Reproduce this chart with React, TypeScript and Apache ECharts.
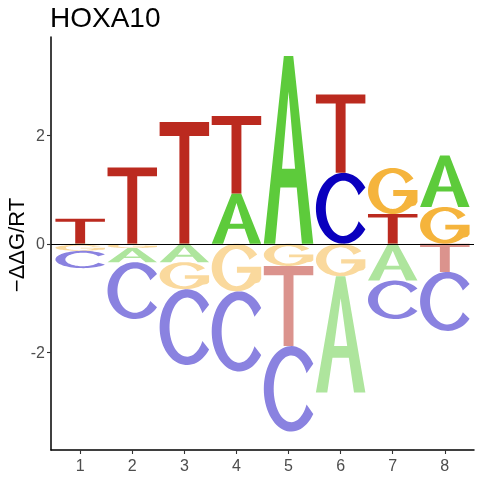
import React, { useEffect, useRef } from "react";
import * as echarts from "echarts";

// ---- data ----
const positions = [1, 2, 3, 4, 5, 6, 7, 8];
const letters = ["A", "C", "G", "T"];
const valuesA = [-0.02, -0.26, -0.34, 0.93, 3.47, -2.15, -0.68, 0.95];
const valuesC = [-0.32, -1.05, -1.4, -1.48, -1.58, 1.31, -0.71, -1.09];
const valuesG = [-0.11, -0.08, -0.5, -0.88, -0.41, -0.6, 0.85, 0.68];
const valuesT = [0.46, 1.41, 2.25, 1.43, -1.48, 1.45, 0.55, -0.52];
const yTickValues = [-2, 0, 2];
const xTickValues = [1, 2, 3, 4, 5, 6, 7, 8];
const chartTitle = "HOXA10";
const yAxisTitle = "\u2212\u0394\u0394G/RT";

const posColors: Record<string, string> = {
  A: "#5DCB3B",
  C: "#0A00BE",
  G: "#F5B43C",
  T: "#BB2A1F",
};
const negColors: Record<string, string> = {
  A: "#AEE59D",
  C: "#8A82E0",
  G: "#FAD99D",
  T: "#DB938D",
};

// ---- glyph outlines (unit box 0..100) ----
function arcPts(cx: number, cy: number, rx: number, ry: number, a0: number, a1: number, n: number) {
  const pts: number[][] = [];
  for (let i = 0; i <= n; i++) {
    const a = ((a0 + ((a1 - a0) * i) / n) * Math.PI) / 180;
    pts.push([cx + rx * Math.cos(a), cy - ry * Math.sin(a)]);
  }
  return pts;
}
function contour(pts: number[][]) {
  return (
    "M" +
    pts.map((p) => p[0].toFixed(2) + " " + p[1].toFixed(2)).join(" L") +
    " Z"
  );
}

const glyphT = contour([
  [0, 0], [100, 0], [100, 11.5], [60, 11.5], [60, 100], [40, 100], [40, 11.5], [0, 11.5],
]);

const glyphA =
  contour([
    [0, 100], [40.5, 0], [59.5, 0], [100, 100], [77, 100], [66.5, 70], [33.5, 70], [23, 100],
  ]) +
  " " +
  contour([[36.8, 60], [63.2, 60], [50, 19]]);

const glyphC = (() => {
  const a = 36;
  const R = 100 / (1 + Math.cos((a * Math.PI) / 180));
  const outer = arcPts(R, 50, R, 50, a, 360 - a, 60);
  const inner = arcPts(R, 50, R - 20, 39, 360 - 28, 28, 60);
  return contour([...outer, ...inner]);
})();

const glyphG = (() => {
  const outer = arcPts(50, 50, 50, 50, 33, 318, 60);
  const inner = arcPts(50, 50, 29, 39, -22, -335, 60);
  return contour([
    ...outer,
    [96, 81],
    [100, 74],
    [100, 48],
    [51, 48],
    [51, 61],
    [79, 61],
    ...inner,
  ]);
})();

const glyphs: Record<string, string> = { A: glyphA, C: glyphC, G: glyphG, T: glyphT };

const LETTER_WIDTH = 0.95;

function buildStacks() {
  const table: Record<string, number[]> = { A: valuesA, C: valuesC, G: valuesG, T: valuesT };
  const out: number[][] = [];
  positions.forEach((pos, i) => {
    const items = letters.map((l, li) => ({ li, v: table[l][i] }));
    const pos_ = items.filter((d) => d.v > 0).sort((a, b) => a.v - b.v);
    const neg_ = items.filter((d) => d.v < 0).sort((a, b) => b.v - a.v);
    let base = 0;
    pos_.forEach((d) => {
      out.push([pos, base, base + d.v, d.li, 1]);
      base += d.v;
    });
    base = 0;
    neg_.forEach((d) => {
      out.push([pos, base + d.v, base, d.li, -1]);
      base += d.v;
    });
  });
  return out;
}

const FONT = '"Liberation Sans", Arial, Helvetica, sans-serif';

export default function App() {
  const ref = useRef<HTMLDivElement>(null);
  useEffect(() => {
    if (!ref.current) return;
    const chart = echarts.init(ref.current, undefined, { renderer: "svg" });
    const data = buildStacks();
    chart.setOption({
      animation: false,
      grid: { left: 51, right: 6, top: 37, bottom: 30, containLabel: false },
      xAxis: {
        type: "value",
        min: 0.44,
        max: 8.56,
        splitLine: { show: false },
        axisLine: { show: true, onZero: false, lineStyle: { color: "#000", width: 1.5 } },
        axisTick: {
          show: true,
          length: 4,
          customValues: xTickValues,
          lineStyle: { color: "#333", width: 1.1 },
        },
        axisLabel: {
          customValues: xTickValues,
          margin: 15,
          verticalAlign: "middle",
          color: "#4D4D4D",
          fontSize: 16,
          fontFamily: FONT,
        },
      },
      yAxis: {
        type: "value",
        min: -3.81,
        max: 3.82,
        splitLine: { show: false },
        axisLine: { show: true, onZero: false, lineStyle: { color: "#000", width: 1.5 } },
        axisTick: {
          show: true,
          length: 4,
          customValues: yTickValues,
          lineStyle: { color: "#333", width: 1.1 },
        },
        axisLabel: {
          customValues: yTickValues,
          margin: 6,
          color: "#4D4D4D",
          fontSize: 16,
          fontFamily: FONT,
          formatter: (v: number) => String(v),
        },
      },
      graphic: [
        {
          type: "text",
          x: 50,
          y: 17,
          style: {
            text: chartTitle,
            fill: "#000",
            fontSize: 28,
            fontFamily: FONT,
            align: "left",
            verticalAlign: "middle",
          },
        },
        {
          type: "text",
          x: 16,
          y: 245,
          rotation: Math.PI / 2,
          style: {
            text: yAxisTitle,
            fill: "#000",
            fontSize: 22,
            fontFamily: FONT,
            align: "center",
            verticalAlign: "middle",
          },
        },
      ],
      series: [
        {
          type: "custom",
          data,
          renderItem: (params: any, api: any) => {
            const x = api.value(0);
            const lo = api.value(1);
            const hi = api.value(2);
            const li = api.value(3);
            const sign = api.value(4);
            const l = letters[li];
            const p0 = api.coord([x - LETTER_WIDTH / 2, hi]);
            const p1 = api.coord([x + LETTER_WIDTH / 2, lo]);
            return {
              type: "path",
              shape: {
                pathData: glyphs[l],
                x: p0[0],
                y: p0[1],
                width: p1[0] - p0[0],
                height: Math.max(p1[1] - p0[1], 0.01),
                layout: "cover",
              },
              style: { fill: sign > 0 ? posColors[l] : negColors[l] },
            };
          },
          markLine: {
            silent: true,
            symbol: "none",
            label: { show: false },
            lineStyle: { color: "#000", width: 1, type: "solid" },
            data: [{ yAxis: 0 }],
          },
        },
      ],
    });
    return () => chart.dispose();
  }, []);
  return (
    <div
      ref={ref}
      style={{ position: "fixed", left: 0, top: 0, width: 480, height: 480 }}
    />
  );
}
